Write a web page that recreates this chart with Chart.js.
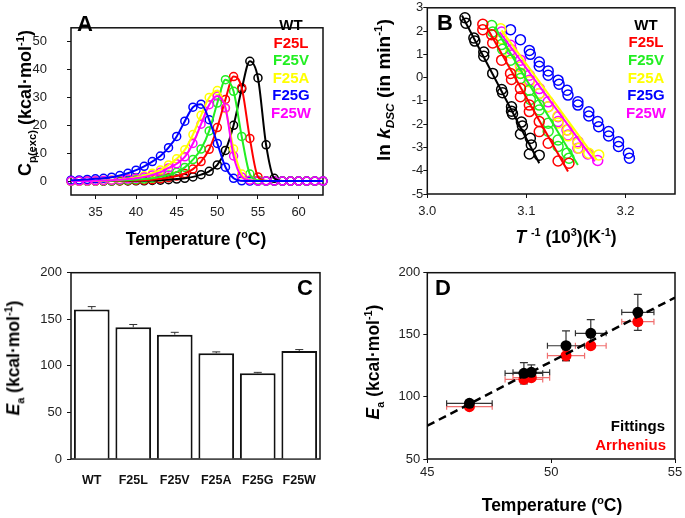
<!DOCTYPE html>
<html>
<head>
<meta charset="utf-8">
<script src="https://cdn.jsdelivr.net/npm/chart.js@4.4.1/dist/chart.umd.min.js"></script>
<style>
  body { margin: 0; background: #fff; }
  #fig { position: relative; width: 685px; height: 518px; overflow: hidden; font-family: Arial, "Liberation Sans", sans-serif; }
  #fig canvas { position: absolute; }
  .lbl { position: absolute; white-space: nowrap; font-weight: bold; line-height: 1; color: #000; }
  .lbl sub, .lbl sup { font-size: 62%; line-height: 0; }
</style>
</head>
<body>
<div id="fig">
  <canvas id="chart_a" width="340" height="250" style="left:0;top:0"></canvas>
  <canvas id="chart_b" width="345" height="250" style="left:340px;top:0"></canvas>
  <canvas id="chart_c" width="340" height="268" style="left:0;top:250px"></canvas>
  <canvas id="chart_d" width="345" height="268" style="left:340px;top:250px"></canvas>
</div>
<script>
// ---- data -------------------------------------------------------------
const variants = ['WT', 'F25L', 'F25V', 'F25A', 'F25G', 'F25W'];

// A: excess heat capacity vs temperature
const temps_a = [32, 33, 34, 35, 36, 37, 38, 39, 40, 41, 42, 43, 44, 45, 46, 47,
                 48, 49, 50, 51, 52, 53, 54, 55, 56, 57, 58, 59, 60, 61, 62, 63];
const cp_wt   = [0, 0, 0, 0, 0, 0, 0.05, 0.05, 0.1, 0.1, 0.2, 0.3, 0.5, 0.7, 1.0, 1.5,
                 2.3, 3.5, 5.8, 11, 20, 33, 43, 37, 13, 1, 0, 0, 0, 0, 0, 0];
const cp_f25l = [0, 0, 0, 0, 0.05, 0.1, 0.1, 0.15, 0.2, 0.3, 0.5, 0.8, 1.2, 1.8, 2.7, 4.3,
                 7, 11.4, 19.2, 29.3, 37.5, 33.5, 15.3, 1.5, 0.1, 0, 0, 0, 0, 0, 0, 0];
const cp_f25v = [0, 0, 0, 0.05, 0.1, 0.1, 0.2, 0.3, 0.5, 0.7, 1.0, 1.5, 2.2, 3.2, 4.9, 7.7,
                 11.5, 18, 28, 36.4, 32.2, 16, 2.5, 0.3, 0, 0, 0, 0, 0, 0, 0, 0];
const cp_f25a = [0, 0, 0.05, 0.1, 0.2, 0.4, 0.6, 0.9, 1.3, 1.9, 2.8, 4, 5.8, 8, 11.2, 16.7,
                 23.6, 30, 32.5, 26, 11.5, 2.5, 0.3, 0, 0, 0, 0, 0, 0, 0, 0, 0];
const cp_f25g = [0.3, 0.4, 0.6, 0.8, 1.0, 1.4, 2.0, 2.8, 3.9, 5.3, 7.0, 9.0, 12, 16, 21.5, 26.5,
                 27.6, 22, 13.5, 5, 1, 0.1, 0, 0, 0, 0, 0, 0, 0, 0, 0, 0];
const cp_f25w = [0, 0, 0.05, 0.1, 0.2, 0.3, 0.5, 0.7, 1.0, 1.5, 2.2, 3.2, 4.7, 6.2, 8.7, 13.5,
                 20.4, 27.4, 30.5, 26.3, 9, 1.5, 0.3, 0, 0, 0, 0, 0, 0, 0, 0, 0];

// B: ln k vs 1/T, points [1/T, ln k] and fitted line ends
const lnk_wt = [[3.038, 2.57], [3.039, 2.34], [3.047, 1.70], [3.048, 1.57], [3.057, 1.10],
                [3.057, 0.92], [3.066, 0.18], [3.075, -0.51], [3.076, -0.65], [3.085, -1.25],
                [3.085, -1.44], [3.086, -1.56], [3.095, -1.91], [3.096, -2.08], [3.094, -2.42],
                [3.104, -2.61], [3.105, -2.89], [3.103, -3.28], [3.113, -3.33]];
const lnk_f25l = [[3.056, 2.29], [3.056, 2.06], [3.065, 1.84], [3.066, 1.49], [3.075, 0.75],
                  [3.084, 0.18], [3.085, -0.08], [3.094, -0.47], [3.094, -0.82], [3.103, -1.18],
                  [3.103, -1.46], [3.113, -1.89], [3.113, -2.32], [3.122, -2.82], [3.132, -3.58],
                  [3.143, -3.68]];
const lnk_f25v = [[3.065, 2.24], [3.066, 1.96], [3.075, 1.42], [3.076, 1.22], [3.084, 0.75],
                  [3.094, 0.18], [3.094, -0.04], [3.103, -0.54], [3.104, -0.94], [3.113, -1.18],
                  [3.113, -1.39], [3.122, -1.96], [3.122, -2.30], [3.132, -2.68], [3.132, -2.96],
                  [3.141, -3.25], [3.143, -3.46]];
const lnk_f25a = [[3.074, 2.10], [3.075, 1.67], [3.084, 1.06], [3.094, 0.46], [3.094, 0.20],
                  [3.103, -0.18], [3.113, -0.68], [3.122, -1.25], [3.132, -1.65], [3.132, -1.95],
                  [3.142, -2.25], [3.142, -2.50], [3.152, -2.82], [3.153, -3.03], [3.163, -3.25],
                  [3.173, -3.32]];
const lnk_f25g = [[3.084, 2.06], [3.094, 1.63], [3.103, 1.17], [3.104, 1.00], [3.113, 0.67],
                  [3.113, 0.49], [3.122, 0.29], [3.122, 0.10], [3.132, -0.11], [3.133, -0.28],
                  [3.141, -0.54], [3.142, -0.75], [3.152, -1.04], [3.152, -1.18], [3.163, -1.47],
                  [3.163, -1.65], [3.172, -1.89], [3.173, -2.11], [3.183, -2.32], [3.183, -2.51],
                  [3.193, -2.75], [3.193, -2.96], [3.203, -3.25], [3.204, -3.46]];
const lnk_f25w = [[3.075, 1.96], [3.084, 1.39], [3.085, 1.20], [3.094, 0.75], [3.094, 0.53],
                  [3.103, 0.10], [3.103, -0.11], [3.113, -0.47], [3.113, -0.68], [3.122, -1.04],
                  [3.122, -1.25], [3.132, -1.68], [3.132, -1.89], [3.141, -2.25], [3.142, -2.46],
                  [3.152, -2.75], [3.152, -3.03], [3.162, -3.28], [3.172, -3.56]];
const fit_wt   = [[3.035, 2.67], [3.113, -3.68]];
const fit_f25l = [[3.059, 2.24], [3.142, -4.03]];
const fit_f25v = [[3.068, 2.17], [3.152, -3.75]];
const fit_f25a = [[3.075, 2.03], [3.171, -3.53]];
const fit_f25w = [[3.073, 1.96], [3.169, -3.60]];

// C: activation energies
const ea_bars = [160.6, 141.4, 133.5, 113.5, 92, 116];
const ea_bars_err = [3, 3, 2.5, 1.5, 1, 1.5];

// D: Ea vs Tm
const d_temp = [46.7, 48.9, 49.2, 50.6, 51.6, 53.5];
const d_temp_err = [0.92, 0.76, 0.74, 0.75, 0.62, 0.65];
const ea_fittings = [94.8, 119, 119.8, 141.2, 151.2, 168.1];
const ea_fittings_err = [2, 8.6, 6, 12, 11, 14.5];
const ea_arrhenius = [92.1, 114.1, 115.5, 133.2, 141.2, 160.6];
const ea_arrhenius_err = [1.5, 2, 2, 4.3, 2, 3];
const trend_x = [45, 55];
const trend_y = [76.8, 180];

// tick labels
const ticks_a_x = [35, 40, 45, 50, 55, 60];
const ticks_a_y = [0, 10, 20, 30, 40, 50];
const ticks_b_x = [3.0, 3.1, 3.2];
const ticks_b_y = [3, 2, 1, 0, -1, -2, -3, -4, -5];
const ticks_c_y = [0, 50, 100, 150, 200];
const ticks_d_x = [45, 50, 55];
const ticks_d_y = [50, 100, 150, 200];

// ---- styling ----------------------------------------------------------
const colors = ['#000000', '#ff0000', '#22ee22', '#ffff00', '#0000ff', '#ff00ff'];
const tick_font = { family: 'Arial, "Liberation Sans", sans-serif', size: 13 };

const frame_plugin = {
  id: 'frame',
  beforeDatasetsDraw(chart) {
    const { ctx, chartArea: a } = chart;
    ctx.save();
    ctx.strokeStyle = '#111';
    ctx.lineWidth = 1.5;
    ctx.strokeRect(a.left, a.top, a.right - a.left, a.bottom - a.top);
    ctx.restore();
  }
};

function make_axis(min, max, tick_values, size, pad, extra) {
  return Object.assign({
    type: 'linear',
    min: min,
    max: max,
    afterBuildTicks: (s) => { s.ticks = tick_values.map(v => ({ value: v })); },
    afterFit: (s) => { if (s.isHorizontal()) s.height = size; else s.width = size; },
    grid: { display: true, drawOnChartArea: false, tickLength: 4, color: '#111', lineWidth: 1 },
    border: { display: false },
    ticks: { font: tick_font, color: '#222', padding: pad },
  }, extra || {});
}

function base_options(padding, scales) {
  return {
    responsive: false,
    animation: false,
    events: [],
    layout: { padding: padding },
    plugins: { legend: { display: false }, tooltip: { enabled: false } },
    scales: scales,
  };
}

const to_points = (pairs) => pairs.map(p => ({ x: p[0], y: p[1] }));

// ---- A ----------------------------------------------------------------
const cp_series = [cp_wt, cp_f25l, cp_f25v, cp_f25a, cp_f25g, cp_f25w];
const a_datasets = [];
cp_series.forEach((values, i) => {
  const pts = temps_a.map((t, j) => ({ x: t, y: values[j] }));
  a_datasets.push({
    data: pts, showLine: false, clip: false,
    pointRadius: 4, pointBorderWidth: 1.5,
    pointBorderColor: colors[i], pointBackgroundColor: 'rgba(0,0,0,0)',
    order: 15 - i,
  });
  a_datasets.push({
    data: pts, showLine: true, clip: false,
    borderColor: colors[i], borderWidth: 2, pointRadius: 0,
    cubicInterpolationMode: 'monotone',
    order: i === 4 ? 0 : 6 - i,
  });
});

new Chart(document.getElementById('chart_a'), {
  type: 'scatter',
  data: { datasets: a_datasets },
  options: base_options({ left: 0, top: 7, right: 17, bottom: 0 }, {
    x: make_axis(32, 63, ticks_a_x, 55, 6),
    y: make_axis(-5, 55, ticks_a_y, 71, 20),
  }),
  plugins: [frame_plugin],
});

// ---- B ----------------------------------------------------------------
const lnk_series = [lnk_wt, lnk_f25l, lnk_f25v, lnk_f25a, lnk_f25g, lnk_f25w];
const fit_series = [fit_wt, fit_f25l, fit_f25v, fit_f25a, null, fit_f25w];
const b_datasets = [];
lnk_series.forEach((pairs, i) => {
  b_datasets.push({
    data: to_points(pairs), showLine: false,
    pointRadius: 5, pointBorderWidth: 1.5,
    pointBorderColor: colors[i], pointBackgroundColor: 'rgba(0,0,0,0)',
    order: 10 + i,
  });
  if (fit_series[i]) {
    b_datasets.push({
      data: to_points(fit_series[i]), showLine: true,
      borderColor: colors[i], borderWidth: 2, pointRadius: 0,
      order: i === 3 ? 0 : (i === 5 ? 1 : 2 + i),
    });
  }
});

new Chart(document.getElementById('chart_b'), {
  type: 'scatter',
  data: { datasets: b_datasets },
  options: base_options({ left: 0, top: 7, right: 10, bottom: 0 }, {
    x: make_axis(3.0, 3.25, ticks_b_x, 56, 6, {
      ticks: { font: tick_font, color: '#222', padding: 6, callback: (v) => v.toFixed(1) },
    }),
    y: make_axis(-5, 3, ticks_b_y, 87.3, 0),
  }),
  plugins: [frame_plugin],
});

// ---- C ----------------------------------------------------------------
const c_error_plugin = {
  id: 'c_errors',
  afterDatasetsDraw(chart) {
    const { ctx, scales: { x, y } } = chart;
    ctx.save();
    ctx.strokeStyle = '#333';
    ctx.lineWidth = 1;
    ea_bars.forEach((v, i) => {
      const px = x.getPixelForValue(i);
      const y0 = y.getPixelForValue(v);
      const y1 = y.getPixelForValue(v + ea_bars_err[i]);
      ctx.beginPath();
      ctx.moveTo(px, y0); ctx.lineTo(px, y1);
      ctx.moveTo(px - 4, y1); ctx.lineTo(px + 4, y1);
      ctx.stroke();
    });
    ctx.restore();
  }
};

new Chart(document.getElementById('chart_c'), {
  type: 'bar',
  data: {
    labels: variants,
    datasets: [{
      data: ea_bars,
      backgroundColor: '#ffffff', borderColor: '#111', borderWidth: 2,
      barPercentage: 0.86, categoryPercentage: 1,
    }],
  },
  options: base_options({ left: 0, top: 22.7, right: 20, bottom: 0 }, {
    x: {
      type: 'category',
      afterFit: (s) => { s.height = 59; },
      grid: { display: false },
      border: { display: false },
      ticks: { font: { family: tick_font.family, size: 12.5, weight: 'bold' }, color: '#111', padding: 6 },
    },
    y: make_axis(0, 200, ticks_c_y, 71, 5),
  }),
  plugins: [frame_plugin, c_error_plugin],
});

// ---- D ----------------------------------------------------------------
function draw_xy_errors(ctx, x, y, xs, xerr, ys, yerr, color) {
  ctx.strokeStyle = color;
  ctx.lineWidth = 1.2;
  xs.forEach((t, i) => {
    const px = x.getPixelForValue(t);
    const py = y.getPixelForValue(ys[i]);
    const xl = x.getPixelForValue(t - xerr[i]);
    const xr = x.getPixelForValue(t + xerr[i]);
    const yt = y.getPixelForValue(ys[i] + yerr[i]);
    const yb = y.getPixelForValue(ys[i] - yerr[i]);
    ctx.beginPath();
    ctx.moveTo(xl, py); ctx.lineTo(xr, py);
    ctx.moveTo(xl, py - 3); ctx.lineTo(xl, py + 3);
    ctx.moveTo(xr, py - 3); ctx.lineTo(xr, py + 3);
    ctx.moveTo(px, yt); ctx.lineTo(px, yb);
    ctx.moveTo(px - 4, yt); ctx.lineTo(px + 4, yt);
    ctx.moveTo(px - 4, yb); ctx.lineTo(px + 4, yb);
    ctx.stroke();
  });
}

const d_error_plugin = {
  id: 'd_errors',
  beforeDatasetsDraw(chart) {
    const { ctx, scales: { x, y } } = chart;
    ctx.save();
    draw_xy_errors(ctx, x, y, d_temp, d_temp_err, ea_arrhenius, ea_arrhenius_err, '#f07070');
    draw_xy_errors(ctx, x, y, d_temp, d_temp_err, ea_fittings, ea_fittings_err, '#333');
    ctx.restore();
  }
};

new Chart(document.getElementById('chart_d'), {
  type: 'scatter',
  data: {
    datasets: [
      {
        data: d_temp.map((t, i) => ({ x: t, y: ea_fittings[i] })),
        pointRadius: 5.5, pointBorderWidth: 0, pointBackgroundColor: '#000', order: 0,
      },
      {
        data: d_temp.map((t, i) => ({ x: t, y: ea_arrhenius[i] })),
        pointRadius: 5.5, pointBorderWidth: 0, pointBackgroundColor: '#ff0000', order: 2,
      },
      {
        data: trend_x.map((t, i) => ({ x: t, y: trend_y[i] })),
        showLine: true, borderColor: '#000', borderWidth: 2.5, borderDash: [8, 5],
        pointRadius: 0, order: 1,
      },
    ],
  },
  options: base_options({ left: 0, top: 22.7, right: 10, bottom: 0 }, {
    x: make_axis(45, 55, ticks_d_x, 59, 2),
    y: make_axis(50, 200, ticks_d_y, 87.3, 3),
  }),
  plugins: [frame_plugin, d_error_plugin],
});

// ---- rich-text labels -------------------------------------------------
const fig = document.getElementById('fig');
function add_label(html, x, y, opts) {
  opts = opts || {};
  const el = document.createElement('div');
  el.className = 'lbl';
  el.innerHTML = html;
  el.style.left = x + 'px';
  el.style.top = y + 'px';
  el.style.fontSize = (opts.size || 17.5) + 'px';
  if (opts.color) el.style.color = opts.color;
  const ax = opts.anchor === 'left' ? '0' : (opts.anchor === 'right' ? '-100%' : '-50%');
  el.style.transform = `translate(${ax}, -50%)` + (opts.rotate ? ' rotate(-90deg)' : '');
  fig.appendChild(el);
}

const temp_title = 'Temperature (<sup>o</sup>C)';
const ea_title = '<i>E</i><sub>a</sub> (kcal·mol<sup>-1</sup>)';

add_label('A', 77, 24, { size: 22, anchor: 'left' });
add_label('C<sub>p(exc)</sub> (kcal·mol<sup>-1</sup>)', 25, 103, { rotate: true, size: 18 });
add_label(temp_title, 196, 240);
variants.forEach((v, i) => add_label(v, 291, 24 + i * 17.5, { size: 15, color: colors[i] }));

add_label('B', 437, 23, { size: 22, anchor: 'left' });
add_label('ln <i>k</i><sub><i>DSC</i></sub> (in min<sup>-1</sup>)', 383, 90, { rotate: true, size: 19 });
add_label('<i>T</i> <sup>-1</sup> (10<sup>3</sup>)(K<sup>-1</sup>)', 566, 238);
variants.forEach((v, i) => add_label(v, 646, 23.5 + i * 17.7, { size: 15, color: colors[i] }));

add_label('C', 297, 288, { size: 22, anchor: 'left' });
add_label(ea_title, 14, 358, { rotate: true });

add_label('D', 435, 288, { size: 22, anchor: 'left' });
add_label(ea_title, 374, 362, { rotate: true });
add_label(temp_title, 552, 506);
add_label('Fittings', 665, 425, { size: 15, anchor: 'right' });
add_label('Arrhenius', 666, 444, { size: 15, anchor: 'right', color: '#ff0000' });
</script>
</body>
</html>
